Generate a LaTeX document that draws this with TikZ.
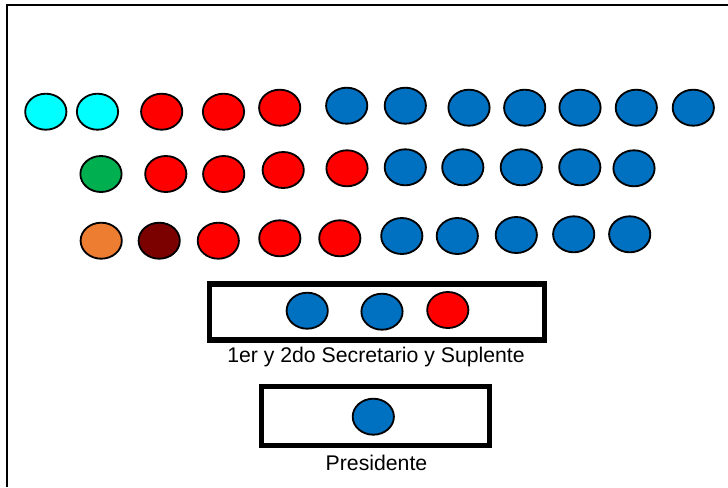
\documentclass[tikz,border=0pt]{standalone}
\usepackage{fontspec}
\setmainfont{Liberation Sans}
\usetikzlibrary{shapes.geometric}
\definecolor{seatcyan}{HTML}{00FFFF}
\definecolor{seatred}{HTML}{FF0000}
\definecolor{seatblue}{HTML}{0070C0}
\definecolor{seatgreen}{HTML}{00B050}
\definecolor{seatorange}{HTML}{ED7D31}
\definecolor{seatmaroon}{HTML}{7B0000}
\tikzset{
  seat/.style = {ellipse, draw=black, line width=1.3pt, inner sep=0pt,
    minimum width=1.03cm, minimum height=0.9cm},
  cyanseat/.style = {seat, fill=seatcyan},
  redseat/.style = {seat, fill=seatred},
  blueseat/.style = {seat, fill=seatblue},
  greenseat/.style = {seat, fill=seatgreen},
  orangeseat/.style = {seat, fill=seatorange},
  maroonseat/.style = {seat, fill=seatmaroon},
  panel/.style = {draw=black, line width=3.6pt, inner sep=0pt},
  caption/.style = {font=\fontsize{15.1}{18}\selectfont}
}
\begin{document}
\begin{tikzpicture}[x=0.025cm, y=-0.025cm]
  \useasboundingbox (0,0) rectangle (728,487);
  % marco
  \draw[line width=1.4pt] (7,487) -- (7,5) -- (728,5);
  % primera fila
  \node[cyanseat] (a1) at (45.8,111.7) {};
  \node[cyanseat] (a2) at (97.5,111.7) {};
  \node[redseat] (a3) at (161.7,111.7) {};
  \node[redseat] (a4) at (223.5,111.7) {};
  \node[redseat] (a5) at (279.7,107.7) {};
  \node[blueseat] (a6) at (346.7,105.7) {};
  \node[blueseat] (a7) at (405.3,105.7) {};
  \node[blueseat] (a8) at (469,107.7) {};
  \node[blueseat] (a9) at (524.7,107.7) {};
  \node[blueseat] (a10) at (580,107.7) {};
  \node[blueseat] (a11) at (636.3,107.7) {};
  \node[blueseat] (a12) at (693.3,107.7) {};
  % segunda fila
  \node[greenseat] (b1) at (101,174) {};
  \node[redseat] (b2) at (165.8,174) {};
  \node[redseat] (b3) at (223.7,174) {};
  \node[redseat] (b4) at (283.2,170) {};
  \node[redseat] (b5) at (347,168.3) {};
  \node[blueseat] (b6) at (405.3,167.3) {};
  \node[blueseat] (b7) at (462.8,167.3) {};
  \node[blueseat] (b8) at (521.3,167.3) {};
  \node[blueseat] (b9) at (579.8,167.3) {};
  \node[blueseat] (b10) at (634,168.3) {};
  % tercera fila
  \node[orangeseat] (c1) at (101.2,240.7) {};
  \node[maroonseat] (c2) at (159.2,240.7) {};
  \node[redseat] (c3) at (218.3,240.7) {};
  \node[redseat] (c4) at (279.8,238.3) {};
  \node[redseat] (c5) at (339.8,238.3) {};
  \node[blueseat] (c6) at (401.8,236) {};
  \node[blueseat] (c7) at (457.3,236) {};
  \node[blueseat] (c8) at (516.3,235) {};
  \node[blueseat] (c9) at (573.7,234.3) {};
  \node[blueseat] (c10) at (629.7,234.3) {};
  % secretarios
  \node[panel, minimum width=8.35cm, minimum height=1.4cm] (mesa) at (377,312) {};
  \node[blueseat] (s1) at (307.2,310.7) {};
  \node[blueseat] (s2) at (382,311.7) {};
  \node[redseat] (s3) at (447.8,310) {};
  \node[caption] (mesatxt) at (376,357.3) {1er y 2do Secretario y Suplente};
  % presidente
  \node[panel, minimum width=5.69cm, minimum height=1.475cm] (presi) at (375.3,416) {};
  \node[blueseat] (p1) at (373.3,416.7) {};
  \node[caption] (presitxt) at (376.5,462.7) {Presidente};
\end{tikzpicture}
\end{document}
